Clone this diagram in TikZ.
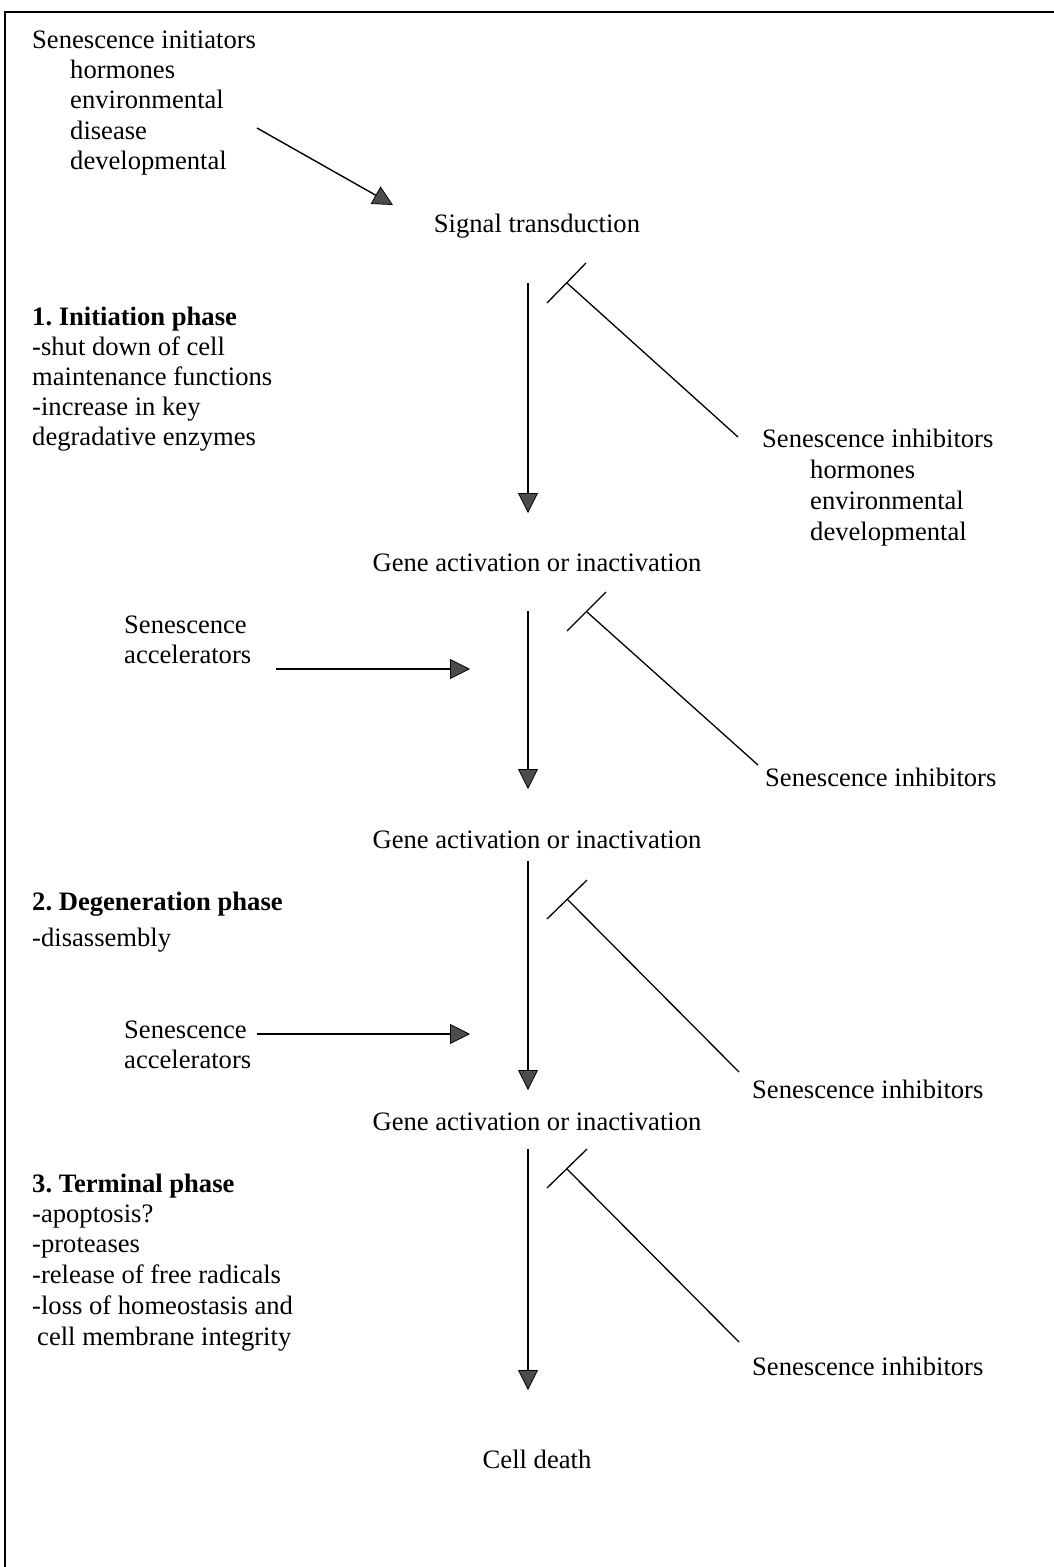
\documentclass[tikz,border=0pt]{standalone}
\usepackage{fontspec}
\setmainfont{Liberation Serif}
\usetikzlibrary{arrows.meta}
\frenchspacing
\begin{document}
\begin{tikzpicture}[x=1pt,y=-1pt,
  txt/.style={anchor=base west,inner sep=0pt,font=\fontsize{26.6}{30}\selectfont},
  ctxt/.style={anchor=base,inner sep=0pt,font=\fontsize{26.6}{30}\selectfont},
  btxt/.style={txt,font=\fontsize{26.6}{30}\selectfont\bfseries},
  flow/.style={line width=1.8pt,-{Triangle[length=20pt,width=20pt,fill=black!70,line width=0.8pt]}},
  push/.style={line width=1.4pt,-{Triangle[length=20pt,width=20pt,fill=black!70,line width=0.8pt]}},
  inhib/.style={line width=1.3pt},
  bar/.style={line width=1.3pt}]
\useasboundingbox (0,0) rectangle (1054,1567);
\fill[white] (0,0) rectangle (1054,1567);
% frame
\draw[line width=1.5pt] (5,1567) -- (5,12) -- (1054,12);

% left column texts
\node[txt] (init)  at (32,48)  {Senescence initiators};
\node[txt] (ih)    at (70,78)  {hormones};
\node[txt] (ie)    at (70,108) {environmental};
\node[txt] (id)    at (70,139) {disease};
\node[txt] (idv)   at (70,169) {developmental};

\node[btxt] (p1)   at (32,325) {1. Initiation phase};
\node[txt] (p1a)   at (32,355) {-shut down of cell};
\node[txt] (p1b)   at (32,385) {maintenance functions};
\node[txt] (p1c)   at (32,415) {-increase in key};
\node[txt] (p1d)   at (32,445) {degradative enzymes};

\node[btxt] (p2)   at (32,910) {2. Degeneration phase};
\node[txt] (p2a)   at (32,946) {-disassembly};

\node[btxt] (p3)   at (32,1192) {3. Terminal phase};
\node[txt] (p3a)   at (32,1222) {-apoptosis?};
\node[txt] (p3b)   at (32,1252) {-proteases};
\node[txt] (p3c)   at (32,1283) {-release of free radicals};
\node[txt] (p3d)   at (32,1314) {-loss of homeostasis and};
\node[txt] (p3e)   at (37,1345) {cell membrane integrity};

\node[txt] (acc1)  at (124,633) {Senescence};
\node[txt] (acc1b) at (124,663) {accelerators};
\node[txt] (acc2)  at (124,1038) {Senescence};
\node[txt] (acc2b) at (124,1068) {accelerators};

% centre column
\node[ctxt] (sig)  at (537,232)  {Signal transduction};
\node[ctxt] (g1)   at (537,571)  {Gene activation or inactivation};
\node[ctxt] (g2)   at (537,848)  {Gene activation or inactivation};
\node[ctxt] (g3)   at (537,1130) {Gene activation or inactivation};
\node[ctxt] (cd)   at (537,1468) {Cell death};

% right column
\node[txt] (inh1)  at (762,447) {Senescence inhibitors};
\node[txt] (inh1a) at (810,478) {hormones};
\node[txt] (inh1b) at (810,509) {environmental};
\node[txt] (inh1c) at (810,540) {developmental};
\node[txt] (inh2)  at (765,786) {Senescence inhibitors};
\node[txt] (inh3)  at (752,1098) {Senescence inhibitors};
\node[txt] (inh4)  at (752,1375) {Senescence inhibitors};

% coordinates
\coordinate (s0) at (257,128);  \coordinate (s1) at (393,205);
\coordinate (v1a) at (528,283);  \coordinate (v1b) at (528,513);
\coordinate (v2a) at (528,611);  \coordinate (v2b) at (528,789);
\coordinate (v3a) at (528,861);  \coordinate (v3b) at (528,1090);
\coordinate (v4a) at (528,1149); \coordinate (v4b) at (528,1390);
\coordinate (a1a) at (276,669);  \coordinate (a1b) at (470,669);
\coordinate (a2a) at (257,1034); \coordinate (a2b) at (470,1034);

\coordinate (t1) at (567,283);  \coordinate (t1e) at (738,437);
\coordinate (t2) at (587,612);  \coordinate (t2e) at (758,765);
\coordinate (t3) at (567,899);  \coordinate (t3e) at (739,1072);
\coordinate (t4) at (567,1169); \coordinate (t4e) at (739,1342);

% arrows
\draw[push] (s0) -- (s1);
\draw[flow] (v1a) -- (v1b);
\draw[flow] (v2a) -- (v2b);
\draw[flow] (v3a) -- (v3b);
\draw[flow] (v4a) -- (v4b);
\draw[push] (a1a) -- (a1b);
\draw[push] (a2a) -- (a2b);

% inhibition T-bars
\draw[inhib] (t1e) -- (t1);  \draw[bar] (547,303) -- (586,263);
\draw[inhib] (t2e) -- (t2);  \draw[bar] (567,631) -- (606,592);
\draw[inhib] (t3e) -- (t3);  \draw[bar] (547,919) -- (587,880);
\draw[inhib] (t4e) -- (t4);  \draw[bar] (547,1188) -- (587,1149);
\end{tikzpicture}
\end{document}
